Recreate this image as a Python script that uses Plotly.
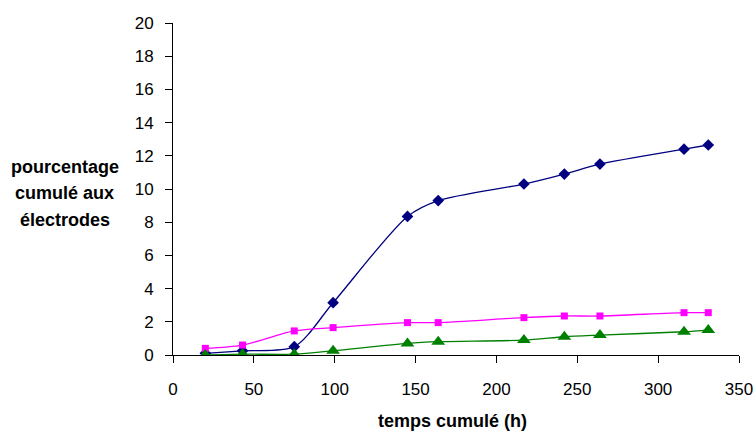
import plotly.graph_objects as go

temps = [20, 43, 75, 99, 145, 164, 217, 242, 264, 316, 331]
serie_bleue = [0.1, 0.25, 0.5, 3.15, 8.35, 9.3, 10.3, 10.9, 11.5, 12.4, 12.65]
serie_rose = [0.4, 0.6, 1.45, 1.65, 1.95, 1.95, 2.25, 2.35, 2.35, 2.55, 2.55]
serie_verte = [0.0, 0.05, 0.05, 0.25, 0.7, 0.8, 0.9, 1.1, 1.2, 1.4, 1.5]

x_ticks = [0, 50, 100, 150, 200, 250, 300, 350]
y_ticks = [0, 2, 4, 6, 8, 10, 12, 14, 16, 18, 20]

y_title_lines = ["pourcentage", "cumulé aux", "électrodes"]
x_title = "temps cumulé (h)"

FONT = "Liberation Sans, Arial, sans-serif"

fig = go.Figure()
fig.add_trace(go.Scatter(x=temps, y=serie_bleue, mode="lines+markers",
                         line=dict(color="#000080", width=1.3, shape="spline", smoothing=0.8),
                         marker=dict(symbol="diamond", size=9, color="#000080")))
fig.add_trace(go.Scatter(x=temps, y=serie_rose, mode="lines+markers",
                         line=dict(color="#FF00FF", width=1.3, shape="spline", smoothing=0.8),
                         marker=dict(symbol="square", size=7, color="#FF00FF")))
fig.add_trace(go.Scatter(x=temps, y=serie_verte, mode="lines+markers",
                         line=dict(color="#008000", width=1.3, shape="spline", smoothing=0.8),
                         marker=dict(symbol="triangle-up", size=12, color="#008000")))

annotations = []
for txt, yp in zip(y_title_lines, [0.566, 0.488, 0.407]):
    annotations.append(dict(text="<b>%s</b>" % txt, xref="paper", yref="paper",
                            x=-0.191, y=yp, xanchor="center", yanchor="middle",
                            showarrow=False, font=dict(size=18)))
annotations.append(dict(text="<b>%s</b>" % x_title, xref="paper", yref="paper",
                        x=0.494, y=-0.199, xanchor="center", yanchor="middle",
                        showarrow=False, font=dict(size=18)))

fig.update_layout(
    width=755, height=432,
    margin=dict(l=173, r=16, t=23, b=77, autoexpand=False),
    paper_bgcolor="white", plot_bgcolor="white",
    showlegend=False,
    font=dict(family=FONT, size=17, color="black"),
    xaxis=dict(range=[0, 350], tickvals=x_ticks, showgrid=False, zeroline=False,
               showline=True, linecolor="black", linewidth=1,
               ticks="outside", ticklen=7, tickcolor="black", automargin=False,
               ticklabelstandoff=12, tickfont=dict(size=17)),
    yaxis=dict(range=[0, 20], tickvals=y_ticks, showgrid=False, zeroline=False,
               showline=True, linecolor="black", linewidth=1,
               ticks="outside", ticklen=7, tickcolor="black", automargin=False,
               ticklabelstandoff=8, tickfont=dict(size=17)),
    annotations=annotations,
)

fig.write_html("out.html", config={"displayModeBar": False},
               post_script="document.body.style.margin='0';document.body.style.overflow='hidden';")
